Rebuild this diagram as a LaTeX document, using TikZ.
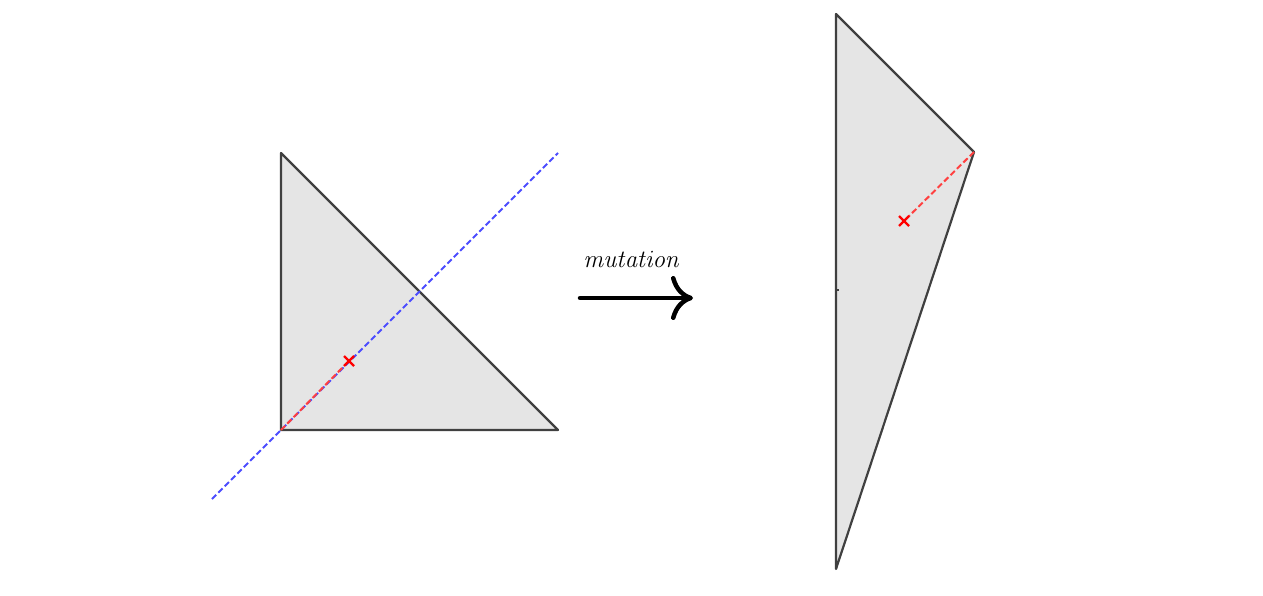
\documentclass[tikz,border=0pt]{standalone}
\usetikzlibrary{arrows.meta,calc}
\begin{document}
\begin{tikzpicture}[x=1pt,y=-1pt,
 tri/.style={draw=black!75,fill=black!10,line width=2.2pt,line join=round},
 dsh/.style={dashed,dash pattern=on 6pt off 3pt,line width=2pt},
 cross/.style={draw=red,line width=2.2pt}]
\useasboundingbox (0,0) rectangle (1263,596);
\coordinate (A) at (281,153); \coordinate (B) at (281,430); \coordinate (C) at (558,430);
\draw[tri] (A)--(B)--(C)--cycle;
\coordinate (b1) at (212,499); \coordinate (b2) at (558,153);
\draw[blue!70,dsh] (b1)--(b2);
\coordinate (X) at (349,361);
\draw[red!75,dsh] (B)--(X);
\draw[cross] ($(X)+(-5,-5)$)--($(X)+(5,5)$) ($(X)+(-5,5)$)--($(X)+(5,-5)$);
\coordinate (D) at (836,14); \coordinate (E) at (974,152); \coordinate (F) at (836,569);
\draw[tri] (D)--(E)--(F)--cycle;
\draw[black!75,line width=1.5pt] (836,290)--(839,290);
\coordinate (Y) at (904,221);
\draw[red!75,dsh] (E)--(Y);
\draw[cross] ($(Y)+(-5,-5)$)--($(Y)+(5,5)$) ($(Y)+(-5,5)$)--($(Y)+(5,-5)$);
\coordinate (p) at (580,298); \coordinate (q) at (693,298);
\draw[line width=4.5pt,line cap=round,-{Computer Modern Rightarrow[length=22pt,width=44pt,line cap=round]}] (p)--(q);
\node[font=\fontsize{26}{30}\selectfont] (lbl) at (632,259) {$\mathit{mutation}$};
\end{tikzpicture}
\end{document}
